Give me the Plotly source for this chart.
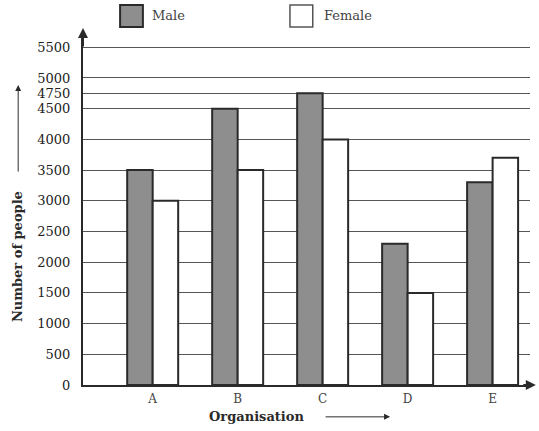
import plotly.graph_objects as go

categories = ["A", "B", "C", "D", "E"]
male = [3500, 4500, 4750, 2300, 3300]
female = [3000, 3500, 4000, 1500, 3700]
y_ticks = [0, 500, 1000, 1500, 2000, 2500, 3000, 3500, 4000, 4500, 4750, 5000, 5500]

FONT = "DejaVu Serif"
DARK = "#2a2a2a"

fig = go.Figure()
fig.add_trace(go.Bar(name="Male", x=categories, y=male,
                     marker=dict(color="#8e8e8e", line=dict(color=DARK, width=2))))
fig.add_trace(go.Bar(name="Female", x=categories, y=female,
                     marker=dict(color="white", line=dict(color=DARK, width=2))))

fig.update_layout(
    width=539, height=431,
    margin=dict(l=83, r=9, t=35, b=46),
    paper_bgcolor="white", plot_bgcolor="white",
    barmode="group", bargap=0.4, bargroupgap=0,
    showlegend=False,
    font=dict(family=FONT, color=DARK),
    xaxis=dict(range=[-0.82, 4.44], showline=True, linecolor=DARK, linewidth=2,
               showgrid=False, tickfont=dict(size=12, family=FONT, color="#444"),
               ticks="", ticklabelstandoff=2),
    yaxis=dict(range=[0, 5700], tickvals=y_ticks, ticktext=[str(v) for v in y_ticks],
               showline=True, linecolor=DARK, linewidth=2,
               showgrid=True, gridcolor="#555", gridwidth=1.3, zeroline=False,
               tickfont=dict(size=13, family=FONT, color="#222"), ticklabelstandoff=8),
)

shapes = []
# legend swatches (paper coords)
shapes.append(dict(type="rect", xref="paper", yref="paper", x0=0.083, x1=0.134, y0=1.023, y1=1.086,
                   fillcolor="#8e8e8e", line=dict(color=DARK, width=2)))
shapes.append(dict(type="rect", xref="paper", yref="paper", x0=0.463, x1=0.514, y0=1.023, y1=1.086,
                   fillcolor="white", line=dict(color="#555", width=1.5)))
fig.update_layout(shapes=shapes)

ann = [
    dict(text="Male", xref="paper", yref="paper", x=0.15, y=1.055, xanchor="left", yanchor="middle",
         showarrow=False, font=dict(size=13, family=FONT, color="#444")),
    dict(text="Female", xref="paper", yref="paper", x=0.535, y=1.055, xanchor="left", yanchor="middle",
         showarrow=False, font=dict(size=13, family=FONT, color="#444")),
    dict(text="<b>Number of people</b>", xref="paper", yref="paper", x=-0.145, y=0.366,
         xanchor="center", yanchor="middle",
         textangle=-90, showarrow=False, font=dict(size=13, family=FONT, color=DARK)),
    dict(text="", xref="paper", yref="paper", x=-0.145, y=0.857, ax=0, ay=88,
         showarrow=True, arrowhead=2, arrowwidth=1, arrowsize=1.2, arrowcolor=DARK),
    dict(text="<b>Organisation</b>", xref="paper", yref="paper", x=0.389, y=-0.091,
         xanchor="center", yanchor="middle",
         showarrow=False, font=dict(size=13, family=FONT, color=DARK)),
    dict(text="", xref="paper", yref="paper", x=0.687, y=-0.091, ax=-66, ay=0,
         showarrow=True, arrowhead=2, arrowwidth=1, arrowsize=1.2, arrowcolor=DARK),
    # axis arrowheads
    dict(text="", xref="paper", yref="paper", x=0, y=1.02, ax=0, ay=20,
         showarrow=True, arrowhead=2, arrowwidth=2, arrowsize=1, arrowcolor=DARK),
    dict(text="", xref="paper", yref="paper", x=1.013, y=0, ax=-14, ay=0,
         showarrow=True, arrowhead=2, arrowwidth=2, arrowsize=1, arrowcolor=DARK),
]
fig.update_layout(annotations=ann)

fig.write_html("out.html", config={"displayModeBar": False},
               post_script="document.body.style.margin='0px';")
